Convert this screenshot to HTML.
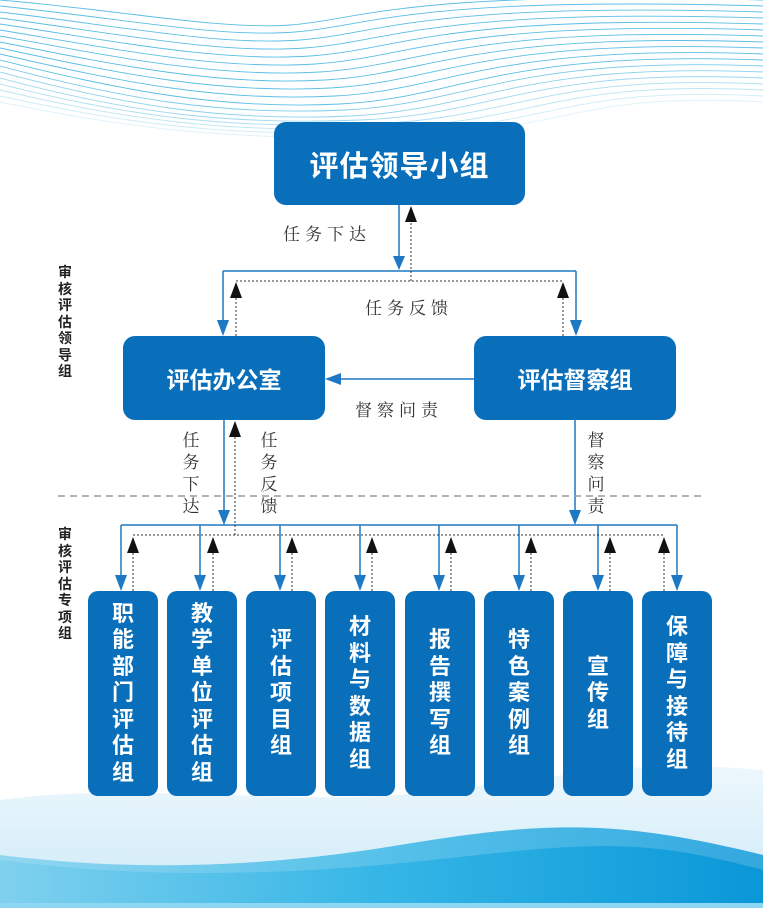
<!DOCTYPE html>
<html><head><meta charset="utf-8"><style>
*{margin:0;padding:0;box-sizing:border-box}
body{width:763px;height:908px;position:relative;overflow:hidden;background:#fff;font-family:"Liberation Sans","Noto Sans CJK SC",sans-serif}
.box{position:absolute;background:#0a6fba;color:#fff;font-weight:bold;border-radius:12px;display:flex;align-items:center;justify-content:center}
.v{position:absolute;display:flex;flex-direction:column;align-items:center;justify-content:center;border-radius:10px;background:#0a6fba;color:#fff;font-weight:bold;font-size:22px;line-height:26.5px;width:70px;top:591px;height:205px}
.lbl{position:absolute;font-family:"Noto Serif CJK SC",serif;font-size:17px;color:#333;letter-spacing:5px}
.vl{position:absolute;font-family:"Noto Serif CJK SC",serif;font-size:17px;color:#333;width:18px;line-height:22px;text-align:center}
.side{position:absolute;left:57px;width:16px;font-size:14px;font-weight:bold;color:#222;line-height:16.5px;text-align:center}
</style></head><body>
<svg width="763" height="908" style="position:absolute;left:0;top:0">
<defs>
<linearGradient id="w1" x1="0" y1="0" x2="1" y2="0"><stop offset="0" stop-color="#7fd0ee"/><stop offset="0.5" stop-color="#35b6e6"/><stop offset="1" stop-color="#0a97d8"/></linearGradient>
<linearGradient id="w2" x1="0" y1="0" x2="0" y2="1"><stop offset="0" stop-color="#e6f4fb"/><stop offset="1" stop-color="#b7e0f4"/></linearGradient>
</defs>
<g fill="none" stroke="#3fb3e0" stroke-width="0.9" opacity="0.85">
<path d="M0,0 C120,10 220,30 290,25 S400,-10 763,0"/>
<path d="M0,6 C120,18 220,38 295,32 S410,-4 763,6"/>
<path d="M0,12 C120,26 220,46 300,40 S420,2 763,12"/>
<path d="M0,18 C120,34 220,54 305,48 S430,8 763,18"/>
<path d="M0,24 C120,42 220,62 310,56 S440,14 763,24"/>
<path d="M0,30 C120,50 220,70 315,64 S450,20 763,30"/>
<path d="M0,36 C120,58 220,78 320,72 S460,26 763,36"/>
<path d="M0,42 C120,66 220,86 325,80 S470,32 763,42"/>
<path d="M0,48 C120,74 220,94 330,88 S480,38 763,48"/>
<path d="M0,54 C120,82 220,102 335,96 S490,44 763,54"/>
<path d="M0,60 C120,90 220,110 340,104 S500,50 763,60"/>
<path d="M0,66 C120,98 220,116 345,110 S510,56 763,66" opacity="0.8"/>
<path d="M0,72 C120,104 220,122 350,116 S520,62 763,72" opacity="0.7"/>
<path d="M0,78 C120,110 220,126 360,120 S530,68 763,78" opacity="0.6"/>
<path d="M0,84 C120,114 220,130 370,124 S540,74 763,84" opacity="0.5"/>
<path d="M0,90 C120,118 220,134 380,128 S550,80 763,90" opacity="0.4"/>
<path d="M0,96 C120,122 220,138 390,132 S560,86 763,96" opacity="0.3"/>
<path d="M0,102 C120,126 220,142 400,136 S570,92 763,102" opacity="0.2"/>
</g>
<path d="M0,800 C150,780 300,810 450,790 S650,760 763,770 L763,908 L0,908Z" fill="url(#w2)" opacity="0.7"/>
<path d="M0,855 C120,870 250,870 400,845 S620,820 763,855 L763,908 L0,908Z" fill="url(#w1)" opacity="0.8"/>
<path d="M0,860 C150,880 300,875 450,858 S650,840 763,870 L763,908 L0,908Z" fill="url(#w1)"/>
<rect x="0" y="903" width="763" height="5" fill="#8fd6f2"/>
<g stroke="#1f78c4" stroke-width="1.5" fill="none">
<path d="M399,205 V268"/><path d="M223,271 H576"/><path d="M223,271 V330"/><path d="M576,271 V330"/>
<path d="M474,379 H335"/>
<path d="M224,420 V520"/><path d="M575,420 V520"/>
<path d="M121,525 H677"/>
<path d="M121,525V585 M200,525V585 M280,525V585 M360,525V585 M439,525V585 M519,525V585 M598,525V585 M677,525V585"/>
</g>
<g fill="#1f78c4">
<path d="M393,256 L405,256 L399,270Z"/>
<path d="M217,320 L229,320 L223,336Z"/><path d="M570,320 L582,320 L576,336Z"/>
<path d="M325,379 L341,373 L341,385Z"/>
<path d="M218,510 L230,510 L224,525Z"/><path d="M569,510 L581,510 L575,525Z"/>
<path d="M115,575 L127,575 L121,591Z"/><path d="M194,575 L206,575 L200,591Z"/><path d="M274,575 L286,575 L280,591Z"/><path d="M354,575 L366,575 L360,591Z"/><path d="M433,575 L445,575 L439,591Z"/><path d="M513,575 L525,575 L519,591Z"/><path d="M592,575 L604,575 L598,591Z"/><path d="M671,575 L683,575 L677,591Z"/>
</g>
<g stroke="#333" stroke-width="1" stroke-dasharray="2,2" fill="none">
<path d="M411,281 V220"/><path d="M236,281 H563"/><path d="M236,336 V295"/><path d="M563,336 V295"/>
<path d="M235,535 V435"/>
<path d="M133,535 H664"/>
<path d="M133,591V550 M213,591V550 M292,591V550 M372,591V550 M451,591V550 M531,591V550 M610,591V550 M664,591V550"/>
</g>
<g fill="#111">
<path d="M405,222 L417,222 L411,206Z"/>
<path d="M230,298 L242,298 L236,282Z"/><path d="M557,298 L569,298 L563,282Z"/>
<path d="M229,437 L241,437 L235,421Z"/>
<path d="M127,553 L139,553 L133,537Z"/><path d="M207,553 L219,553 L213,537Z"/><path d="M286,553 L298,553 L292,537Z"/><path d="M366,553 L378,553 L372,537Z"/><path d="M445,553 L457,553 L451,537Z"/><path d="M525,553 L537,553 L531,537Z"/><path d="M604,553 L616,553 L610,537Z"/><path d="M658,553 L670,553 L664,537Z"/>
</g>
<path d="M58,496 H703" stroke="#999" stroke-width="1.5" stroke-dasharray="7,5"/>
</svg>
<div class="box" style="left:274px;top:122px;width:251px;height:83px;font-size:29px;letter-spacing:1px">评估领导小组</div>
<div class="box" style="left:123px;top:336px;width:202px;height:84px;font-size:23px">评估办公室</div>
<div class="box" style="left:474px;top:336px;width:202px;height:84px;font-size:23px">评估督察组</div>
<div class="lbl" style="left:283px;top:220px">任务下达</div>
<div class="lbl" style="left:365px;top:294px">任务反馈</div>
<div class="lbl" style="left:355px;top:396px">督察问责</div>
<div class="vl" style="left:182px;top:428px">任<br>务<br>下<br>达</div>
<div class="vl" style="left:260px;top:428px">任<br>务<br>反<br>馈</div>
<div class="vl" style="left:587px;top:428px">督<br>察<br>问<br>责</div>
<div class="side" style="top:264px">审<br>核<br>评<br>估<br>领<br>导<br>组</div>
<div class="side" style="top:526px">审<br>核<br>评<br>估<br>专<br>项<br>组</div>
<div class="v" style="left:88px">职<br>能<br>部<br>门<br>评<br>估<br>组</div>
<div class="v" style="left:167px">教<br>学<br>单<br>位<br>评<br>估<br>组</div>
<div class="v" style="left:246px">评<br>估<br>项<br>目<br>组</div>
<div class="v" style="left:325px">材<br>料<br>与<br>数<br>据<br>组</div>
<div class="v" style="left:405px">报<br>告<br>撰<br>写<br>组</div>
<div class="v" style="left:484px">特<br>色<br>案<br>例<br>组</div>
<div class="v" style="left:563px">宣<br>传<br>组</div>
<div class="v" style="left:642px">保<br>障<br>与<br>接<br>待<br>组</div>
</body></html>
